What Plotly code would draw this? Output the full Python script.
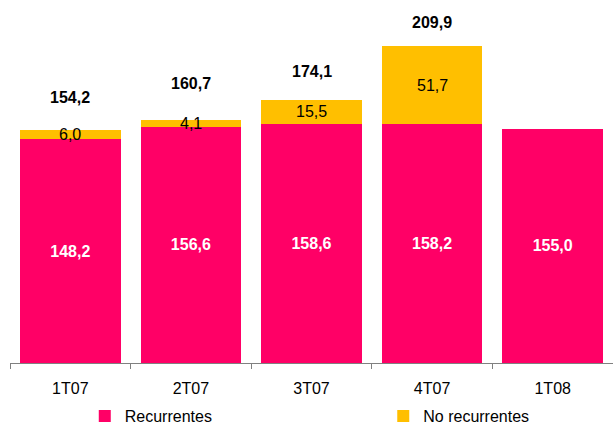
import plotly.graph_objects as go

categories = ["1T07", "2T07", "3T07", "4T07", "1T08"]
recurrentes = [148.2, 156.6, 158.6, 158.2, 155.0]
no_recurrentes = [6.0, 4.1, 15.5, 51.7, None]
totals = [154.2, 160.7, 174.1, 209.9, None]

def fmt(v):
    return f"{v:.1f}".replace(".", ",")

PINK = "#FF0066"
GOLD = "#FFBF00"
FONT = "Liberation Sans, Arial, sans-serif"
FS = 16

fig = go.Figure()
fig.add_trace(go.Bar(
    x=categories, y=recurrentes, name="Recurrentes", legend="legend",
    marker=dict(color=PINK, line=dict(width=0)),
    text=[fmt(v) for v in recurrentes], textposition="inside",
    insidetextanchor="middle", constraintext="none",
    textfont=dict(color="white", size=FS, family=FONT, weight="bold"),
    hoverinfo="skip",
))
fig.add_trace(go.Bar(
    x=categories, y=[v if v is not None else 0 for v in no_recurrentes],
    name="No recurrentes", legend="legend2",
    marker=dict(color=GOLD, line=dict(width=0)),
    hoverinfo="skip",
))

total_label_shift = [33, 37, 29, 24]
for i, c in enumerate(categories):
    nr = no_recurrentes[i]
    if nr is not None:
        fig.add_annotation(x=c, y=recurrentes[i] + nr / 2, text=fmt(nr),
                           showarrow=False,
                           font=dict(color="black", size=FS, family=FONT))
    t = totals[i]
    if t is not None:
        fig.add_annotation(x=c, y=t, text=f"<b>{fmt(t)}</b>", showarrow=False,
                           yshift=total_label_shift[i],
                           font=dict(color="black", size=FS, family=FONT))

legend_common = dict(orientation="h", xanchor="left",
                     yref="paper", y=-0.146, yanchor="middle",
                     font=dict(size=FS, family=FONT),
                     bgcolor="rgba(0,0,0,0)")

fig.update_layout(
    barmode="stack",
    bargap=0.165,
    width=613, height=423,
    margin=dict(l=10, r=0, t=0, b=60, autoexpand=False),
    plot_bgcolor="white", paper_bgcolor="white",
    font=dict(family=FONT, size=FS, color="black"),
    showlegend=True,
    legend=dict(x=0.124, **legend_common),
    legend2=dict(x=0.619, **legend_common),
    xaxis=dict(showline=True, linecolor="#808080", linewidth=1,
               ticks="outside", tickson="boundaries", ticklen=5,
               tickcolor="#808080", showgrid=False, range=[-0.5, 4.5],
               ticklabelstandoff=11,
               tickfont=dict(size=FS, family=FONT, color="black")),
    yaxis=dict(visible=False, range=[0, 240.4], showgrid=False),
)

fig.write_html("out.html", config={"displayModeBar": False},
               post_script="document.body.style.margin='0';document.body.style.overflow='hidden';")
